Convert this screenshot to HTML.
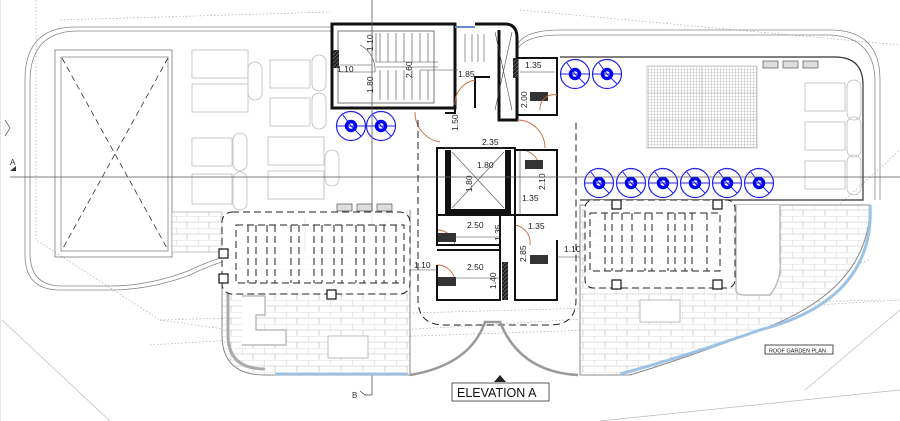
<!DOCTYPE html>
<html><head><meta charset="utf-8">
<style>
html,body{margin:0;padding:0;background:#fff;width:900px;height:421px;overflow:hidden}
svg{display:block}
text{font-family:"Liberation Sans",sans-serif}
</style></head>
<body>
<svg width="900" height="421" viewBox="0 0 900 421" xmlns="http://www.w3.org/2000/svg">
<defs>
<pattern id="brick" width="22" height="12" patternUnits="userSpaceOnUse">
<rect width="22" height="12" fill="#fff"/>
<path d="M0 0H22M0 6H22M0 0V6M11 6V12" stroke="#bbb" stroke-width="0.6" fill="none"/>
</pattern>
<pattern id="fine" width="3" height="3" patternUnits="userSpaceOnUse">
<rect width="3" height="3" fill="#fff"/>
<path d="M0 0H3M0 0V3" stroke="#999" stroke-width="0.6"/>
</pattern>
<pattern id="hatch" width="4" height="4" patternUnits="userSpaceOnUse">
<rect width="4" height="4" fill="#222"/>
<path d="M0 4L4 0" stroke="#666" stroke-width="0.8"/>
</pattern>
<g id="umb">
<circle r="14.5" fill="none" stroke="#2020e8" stroke-width="1.2"/>
<path d="M-14 0H14M0 0L10 10M0 0L-8 -11" stroke="#2020e8" stroke-width="1"/>
<circle r="4.5" fill="none" stroke="#0000f0" stroke-width="3.5"/>
</g>
</defs>

<g fill="none" stroke="#aaa" stroke-width="0.7" stroke-dasharray="1.5,2">
<path d="M36 0V240L160 320L880 300"/>
<path d="M60 20L330 12M520 10L900 45"/>
<path d="M160 320L300 340L590 330L870 260"/>
<path d="M150 345L900 300"/>
<path d="M700 330L900 150"/>
</g>
<path d="M0 0V421" stroke="#ccc" stroke-width="1"/>
<path d="M2 320L110 421" stroke="#bbb" stroke-width="0.7"/>
<path d="M600 421L900 390" stroke="#bbb" stroke-width="0.7"/>
<path d="M805 390L900 310" stroke="#bbb" stroke-width="0.7"/>
<path d="M5 120L10 128L5 136" stroke="#666" fill="none" stroke-width="0.8"/>

<g fill="none" stroke="#888" stroke-width="0.8">
<path d="M332 27H75Q25 27 25 80V255Q25 290 60 290H110Q150 290 190 275Q215 263 235 258"/>
<path d="M332 31H78Q30 31 30 82V253Q30 286 62 286H110Q148 286 188 271Q213 259 235 254"/>
</g>

<rect x="55" y="50" width="117" height="207" fill="none" stroke="#888" stroke-width="0.9"/>
<rect x="61" y="57" width="107" height="194" fill="none" stroke="#888" stroke-width="0.8"/>
<path d="M62 58L168 250M168 58L62 250" stroke="#333" stroke-width="0.8" stroke-dasharray="6,4"/>

<g fill="none" stroke="#bbb" stroke-width="0.8">
<rect x="192" y="50" width="56" height="28"/><rect x="192" y="84" width="56" height="28"/>
<rect x="248" y="62" width="14" height="38" rx="7"/>
<rect x="270" y="60" width="40" height="28"/><rect x="270" y="98" width="40" height="28"/>
<rect x="312" y="55" width="14" height="36" rx="7"/><rect x="312" y="93" width="14" height="36" rx="7"/>
<rect x="192" y="138" width="40" height="28"/><rect x="192" y="174" width="40" height="30"/>
<rect x="233" y="133" width="14" height="38" rx="7"/><rect x="233" y="172" width="14" height="38" rx="7"/>
<rect x="268" y="137" width="56" height="28"/><rect x="268" y="171" width="56" height="28"/>
<rect x="325" y="150" width="14" height="36" rx="7"/>
</g>

<rect x="172" y="212" width="50" height="40" fill="url(#brick)" stroke="#999" stroke-width="0.6"/>

<g fill="none" stroke="#888" stroke-width="0.8">
<path d="M517 45Q525 30 560 30H830Q880 30 880 80V200"/>
<path d="M517 50Q525 35 560 35H826Q875 35 875 82V200"/>
</g>
<path d="M560 57H835Q863 57 863 85V200H580" fill="none" stroke="#333" stroke-width="1.2"/>
<rect x="647" y="66" width="110" height="82" fill="url(#fine)" stroke="#aaa" stroke-width="0.6"/>
<path d="M702 66V148M647 93H757M647 120H757" stroke="#bbb" stroke-width="0.8"/>
<g fill="none" stroke="#bbb" stroke-width="0.8">
<rect x="805" y="83" width="40" height="28"/><rect x="805" y="122" width="40" height="28"/><rect x="805" y="161" width="40" height="28"/>
<rect x="847" y="80" width="14" height="40" rx="7"/><rect x="847" y="117" width="14" height="40" rx="7"/><rect x="847" y="155" width="14" height="40" rx="7"/>
</g>
<g fill="#ddd" stroke="#555" stroke-width="0.7">
<rect x="763" y="61" width="15" height="7"/><rect x="783" y="61" width="15" height="7"/><rect x="803" y="61" width="15" height="7"/>
<rect x="337" y="204" width="15" height="7"/><rect x="357" y="204" width="15" height="7"/><rect x="377" y="204" width="15" height="7"/>
</g>

<path d="M332 24H455V108H332Z" fill="none" stroke="#111" stroke-width="3"/>
<rect x="338" y="31" width="96" height="72" fill="none" stroke="#555" stroke-width="0.8"/>
<rect x="333" y="50" width="6" height="18" fill="url(#hatch)"/>
<g stroke="#444" stroke-width="0.6" fill="none">
<path d="M376 33V62H438M376 67H438"/>
<path d="M380 33V62M388 33V62M396 33V62M404 33V62M412 33V62M420 33V62M428 33V62"/>
<path d="M380 70V100M388 70V100M396 70V100M404 70V100M412 70V100M420 70V100M428 70V100"/>
<path d="M340 72H375M360 45A28 28 0 0 1 375 72"/>
</g>
<path d="M475 24H505Q517 24 517 38V120H499V30" fill="none" stroke="#111" stroke-width="3"/>
<path d="M455 27H475" stroke="#6688cc" stroke-width="2"/>
<path d="M495 32L512 110M512 32L495 110" stroke="#444" stroke-width="0.6"/>
<rect x="513" y="58" width="5" height="20" fill="url(#hatch)"/>
<g stroke="#555" stroke-width="0.6" fill="none"><path d="M465 34V62M472 34V62M478 34V62M484 34V62"/></g>
<path d="M517 58H557V115H517" fill="none" stroke="#111" stroke-width="2"/>
<rect x="530" y="92" width="18" height="9" fill="#333"/>
<path d="M455 108V113H445M475 108V77H490" fill="none" stroke="#111" stroke-width="2"/>
<g fill="none" stroke="#c86a3a" stroke-width="0.9">
<path d="M415 112A30 30 0 0 0 440 142M475 80A24 24 0 0 0 455 105M517 120A28 28 0 0 1 545 148M557 95A14 14 0 0 0 540 110"/>
<path d="M519 150A20 20 0 0 1 540 168M437 230A18 18 0 0 1 455 245M437 265A18 18 0 0 1 455 280M515 225A18 18 0 0 1 530 245M380 212A28 28 0 0 1 405 240M608 212A28 28 0 0 0 590 240"/>
</g>
<path d="M437 148H515V215H437Z" fill="none" stroke="#111" stroke-width="2"/>
<path d="M448 150V212H508V150" fill="none" stroke="#111" stroke-width="6"/>
<path d="M452 152L504 208M504 152L452 208" stroke="#555" stroke-width="0.6"/>
<path d="M515 150H557V215H515" fill="none" stroke="#111" stroke-width="2"/>
<rect x="525" y="160" width="18" height="9" fill="#333"/>
<path d="M437 215V245H500M437 250H500V300H437V265M500 215V300M515 215V300H557V240" fill="none" stroke="#111" stroke-width="2"/>
<rect x="502" y="262" width="6" height="38" fill="url(#hatch)"/>
<rect x="438" y="233" width="18" height="9" fill="#333"/><rect x="438" y="277" width="18" height="9" fill="#333"/><rect x="530" y="255" width="18" height="9" fill="#333"/>

<g font-size="8.5" fill="#222">
<text x="337" y="72">1.10</text>
<text x="458" y="77">1.85</text>
<text x="525" y="68">1.35</text>
<text x="482" y="145">2.35</text>
<text x="477" y="168">1.80</text>
<text x="522" y="201">1.35</text>
<text x="467" y="228">2.50</text>
<text x="467" y="270">2.50</text>
<text x="528" y="229">1.35</text>
<text x="414" y="268">1.10</text>
<text x="564" y="252">1.10</text>
<text x="303" y="274">6.90</text>
<text x="757" y="241">.90</text>
<text transform="translate(373,51) rotate(-90)">1.10</text>
<text transform="translate(373,93) rotate(-90)">1.80</text>
<text transform="translate(412,78) rotate(-90)">2.60</text>
<text transform="translate(527,108) rotate(-90)">2.00</text>
<text transform="translate(458,131) rotate(-90)">1.50</text>
<text transform="translate(472,192) rotate(-90)">1.80</text>
<text transform="translate(545,190) rotate(-90)">2.10</text>
<text transform="translate(501,241) rotate(-90)">1.35</text>
<text transform="translate(496,289) rotate(-90)">1.40</text>
<text transform="translate(526,262) rotate(-90)">2.85</text>
<text transform="translate(302,296) rotate(-90)">5.55</text>
</g>
<g stroke="#444" stroke-width="0.6">
<path d="M340 65H372M420 70H458M520 72H555M445 148H505M455 237H500M455 278H500M410 270H437M557 257H590M230 268H410M305 218V360M630 220V370M520 150V215"/>
</g>

<use href="#umb" x="351" y="126"/><use href="#umb" x="381" y="126"/>
<use href="#umb" x="575" y="74"/><use href="#umb" x="607" y="74"/>
<use href="#umb" x="599" y="183"/><use href="#umb" x="631" y="183"/><use href="#umb" x="663" y="183"/><use href="#umb" x="695" y="183"/><use href="#umb" x="727" y="183"/><use href="#umb" x="759" y="183"/>

<path d="M10 177H900" stroke="#555" stroke-width="0.8"/>
<path d="M372 0V395" stroke="#555" stroke-width="0.8"/>
<text x="10" y="165" font-size="8" fill="#333">A</text>
<path d="M10 171L16 166L16 171Z" fill="#333"/>
<path d="M372 395H365L360 391" stroke="#444" fill="none" stroke-width="0.8"/>
<text x="352" y="398" font-size="8" fill="#333">B</text>

<path d="M222 285V335Q222 375 265 375H410V210H410" fill="url(#brick)" stroke="#888" stroke-width="1"/>
<path d="M228 290V335Q228 369 265 369" fill="none" stroke="#aaa" stroke-width="3"/>
<path d="M275 374H408" stroke="#9bc3e6" stroke-width="2.5"/>
<path d="M242 296H265V315H256V330H286V345H242" fill="#fff" stroke="#bbb" stroke-width="1.5"/>
<rect x="328" y="336" width="40" height="22" fill="#fff" stroke="#bbb" stroke-width="1"/>
<rect x="222" y="212" width="188" height="82" rx="10" fill="rgba(255,255,255,0.85)" stroke="#222" stroke-width="1" stroke-dasharray="7,4"/>
<rect x="236" y="225" width="168" height="58" fill="none" stroke="#222" stroke-width="1" stroke-dasharray="7,4"/>
<g stroke="#222" stroke-width="1" stroke-dasharray="7,4">
<path d="M248 225V283M256 225V283M267 225V283M275 225V283M291 225V283M299 225V283M314 225V283M322 225V283M334 225V283M342 225V283M356 225V283M364 225V283M376 225V283M384 225V283M396 225V283"/>
</g>
<rect x="219" y="249" width="9" height="9" fill="#fff" stroke="#111" stroke-width="1.2"/>
<rect x="219" y="274" width="9" height="9" fill="#fff" stroke="#111" stroke-width="1.2"/>
<rect x="327" y="290" width="9" height="9" fill="#fff" stroke="#111" stroke-width="1.2"/>

<path d="M418 120V300Q418 325 445 325H550Q576 325 576 300V120" fill="none" stroke="#222" stroke-width="1" stroke-dasharray="7,4"/>
<path d="M410 375Q470 365 485 322H500Q520 372 578 375" fill="none" stroke="#999" stroke-width="2.5"/>

<path d="M580 205H870Q870 290 760 330Q680 360 630 375H580Z" fill="url(#brick)" stroke="#888" stroke-width="1"/>
<path d="M870 205Q875 300 760 330Q680 358 620 374" fill="none" stroke="#9bc3e6" stroke-width="3"/>
<path d="M736 205V290Q736 295 745 295H770Q782 280 780 260V205" fill="#fff" stroke="#bbb" stroke-width="1.5"/>
<rect x="640" y="300" width="40" height="22" fill="#fff" stroke="#bbb" stroke-width="1"/>
<rect x="585" y="200" width="150" height="88" rx="8" fill="rgba(255,255,255,0.85)" stroke="#222" stroke-width="1" stroke-dasharray="7,4"/>
<rect x="590" y="213" width="130" height="58" fill="none" stroke="#222" stroke-width="1" stroke-dasharray="7,4"/>
<g stroke="#222" stroke-width="1" stroke-dasharray="7,4">
<path d="M605 213V271M612 213V271M622 213V271M632 213V271M645 213V271M652 213V271M668 213V271M675 213V271M685 213V271M692 213V271M707 213V271"/>
</g>
<rect x="612" y="200" width="9" height="9" fill="#fff" stroke="#111" stroke-width="1.2"/>
<rect x="713" y="200" width="9" height="9" fill="#fff" stroke="#111" stroke-width="1.2"/>
<rect x="612" y="280" width="9" height="9" fill="#fff" stroke="#111" stroke-width="1.2"/>
<rect x="713" y="280" width="9" height="9" fill="#fff" stroke="#111" stroke-width="1.2"/>

<rect x="765" y="345" width="68" height="9" fill="#fff" stroke="#222" stroke-width="0.8"/>
<text x="769" y="352.5" font-size="5.5" fill="#111">ROOF GARDEN PLAN</text>
<path d="M494 382L500 375L506 382Z" fill="#222"/>
<rect x="452" y="383" width="97" height="18" fill="#fff" stroke="#333" stroke-width="0.8"/>
<text x="457" y="397" font-size="12.5" fill="#111">ELEVATION A</text>
</svg>
</body></html>
